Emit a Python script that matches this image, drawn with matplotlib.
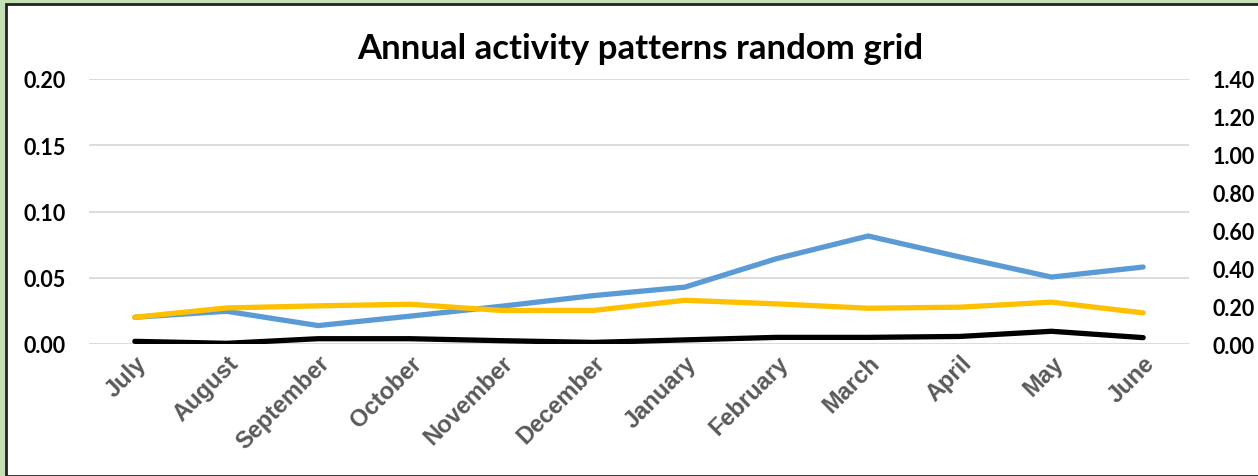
import matplotlib
matplotlib.use("Agg")
import matplotlib.pyplot as plt
from matplotlib.patches import Rectangle
from matplotlib.transforms import ScaledTranslation

months = ["July", "August", "September", "October", "November", "December",
          "January", "February", "March", "April", "May", "June"]
blue_series = [0.0202, 0.0247, 0.0139, 0.0210, 0.0285, 0.0365,
               0.0429, 0.0644, 0.0815, 0.0657, 0.0505, 0.0581]
yellow_series = [0.0202, 0.0272, 0.0288, 0.0300, 0.0253, 0.0253,
                 0.0330, 0.0303, 0.0270, 0.0278, 0.0316, 0.0235]
black_series = [0.0020, 0.0005, 0.0040, 0.0040, 0.0025, 0.0012,
                0.0031, 0.0050, 0.0050, 0.0057, 0.0096, 0.0048]
left_ticks = [0.00, 0.05, 0.10, 0.15, 0.20]
right_ticks = [0.00, 0.20, 0.40, 0.60, 0.80, 1.00, 1.20, 1.40]
title = "Annual activity patterns random grid"

W, H = 1258, 477
fig = plt.figure(figsize=(W / 100, H / 100), dpi=100)
fig.patch.set_facecolor("#C5E0B4")
# white chart area with dark border
fig.patches.append(Rectangle((6 / W, 0), 1, 1 - 5 / H, transform=fig.transFigure,
                             facecolor="white", edgecolor="#222222", linewidth=2.0,
                             zorder=-5))

ax = fig.add_axes([89 / W, 1 - 345 / H, 1100 / W, 265 / H])
ax.set_facecolor("none")
x = list(range(len(months)))
ax.plot(x, blue_series, color="#5B9BD5", lw=3.8, solid_capstyle="round", zorder=3)
ax.plot(x, yellow_series, color="#FFC000", lw=3.8, solid_capstyle="round", zorder=3)
ax.plot(x, black_series, color="#000000", lw=3.8, solid_capstyle="round", zorder=3)

ax.set_xlim(-0.5, len(months) - 0.5)
ax.set_ylim(0, 0.2)
ax.set_yticks(left_ticks)
ax.set_yticklabels([f"{v:.2f}" for v in left_ticks], fontfamily="Lato",
                   fontweight="bold", fontsize=15.5)
ax.grid(axis="y", color="#D9D9D9", lw=1.3)
ax.set_axisbelow(True)
for s in ax.spines.values():
    s.set_visible(False)
ax.tick_params(axis="both", length=0)
ax.tick_params(axis="y", pad=17)
ax.set_xticks(x)
ax.set_xticklabels(months, rotation=45, ha="right", rotation_mode="anchor",
                   fontfamily="Liberation Sans", fontweight="bold", fontsize=17,
                   color="#595959")
ax.tick_params(axis="x", pad=5)
shift = ScaledTranslation(0 / 100, 0, fig.dpi_scale_trans)
for lbl in ax.get_xticklabels():
    lbl.set_transform(lbl.get_transform() + shift)

ax2 = ax.twinx()
ax2.set_ylim(0, 1.4)
ax2.set_yticks(right_ticks)
ax2.set_yticklabels([f"{v:.2f}" for v in right_ticks], fontfamily="Lato",
                    fontweight="bold", fontsize=15.5)
ax2.tick_params(axis="y", length=0, pad=17)
for s in ax2.spines.values():
    s.set_visible(False)

fig.text(640 / W, 1 - 49 / H, title, ha="center", va="center",
         fontfamily="Lato", fontweight="bold", fontsize=25)

fig.savefig("out.png", dpi=100, facecolor=fig.get_facecolor())
